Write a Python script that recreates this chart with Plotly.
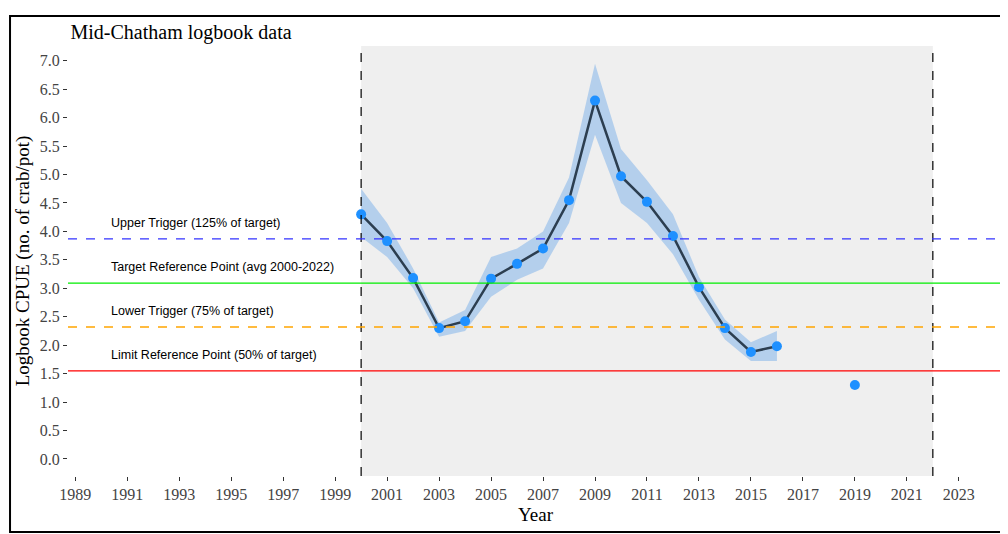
import plotly.graph_objects as go

years = [2000,2001,2002,2003,2004,2005,2006,2007,2008,2009,2010,2011,2012,2013,2014,2015,2016]
cpue = [4.3,3.83,3.18,2.3,2.42,3.17,3.43,3.7,4.55,6.3,4.97,4.52,3.92,3.02,2.3,1.88,1.98]
lower = [3.9,3.55,3.0,2.15,2.25,2.85,3.15,3.35,4.15,5.7,4.5,4.15,3.6,2.8,2.1,1.72,1.72]
upper = [4.75,4.15,3.35,2.4,2.62,3.55,3.7,4.0,4.95,6.95,5.45,4.9,4.3,3.2,2.45,2.05,2.25]
extra_year = [2019]
extra_cpue = [1.3]
ref_names = ["Upper Trigger (125% of target)","Target Reference Point (avg 2000-2022)",
             "Lower Trigger (75% of target)","Limit Reference Point (50% of target)"]
ref_vals = [3.87,3.09,2.32,1.55]
ref_colors = ["#3333ff","#00ee00","orange","red"]
ref_dash = ["dash","solid","dash","solid"]

fig = go.Figure()
fig.add_shape(type="rect", xref="paper", yref="paper", x0=-0.062, x1=0.999, y0=-0.13, y1=1.07,
              line=dict(color="black", width=2), fillcolor="rgba(0,0,0,0)", layer="below")
fig.add_vrect(x0=2000, x1=2022, fillcolor="#efefef", opacity=1, line_width=0, layer="below")
for xv in [2000, 2022]:
    fig.add_vline(x=xv, line=dict(color="black", dash="dash", width=1.2))
for n, v, c, d in zip(ref_names, ref_vals, ref_colors, ref_dash):
    fig.add_hline(y=v, line=dict(color=c, dash=d, width=1.3))
    fig.add_annotation(x=1990.3, y=v+0.12, text=n, showarrow=False, xanchor="left", yanchor="bottom",
                       font=dict(family="Liberation Sans, Arial", size=12.5, color="black"))
fig.add_trace(go.Scatter(x=years+years[::-1], y=upper+lower[::-1], fill="toself",
                         fillcolor="rgba(160,196,235,0.75)", line=dict(width=0), hoverinfo="skip"))
fig.add_trace(go.Scatter(x=years, y=cpue, mode="lines+markers", line=dict(color="#2c3e50", width=2.5),
                         marker=dict(color="#1e90ff", size=10)))
fig.add_trace(go.Scatter(x=extra_year, y=extra_cpue, mode="markers", marker=dict(color="#1e90ff", size=10)))

fig.update_layout(
    width=1008, height=534, showlegend=False, plot_bgcolor="white", paper_bgcolor="white",
    margin=dict(l=60, r=13, t=38, b=66, autoexpand=False),
    font=dict(family="Liberation Serif, Times New Roman", size=16, color="#444"),
    title=dict(text="Mid-Chatham logbook data", x=0.062, y=0.955, xanchor="left", yanchor="middle",
               font=dict(family="Liberation Serif", size=20, color="black")),
    xaxis=dict(range=[1988.72, 2024.7], tickvals=list(range(1989, 2024, 2)), title=dict(text="Year", standoff=5, font=dict(color="black")),
               showgrid=False, zeroline=False, ticks="outside", ticklen=4, tickcolor="#333", showline=False),
    yaxis=dict(range=[-0.3, 7.26], tickvals=[i*0.5 for i in range(15)], tickformat=".1f",
               title=dict(text="Logbook CPUE (no. of crab/pot)", standoff=5, font=dict(color="black")),
               showgrid=False, zeroline=False, ticks="outside", ticklen=4, tickcolor="#333"),
)
fig.write_html("out.html")
